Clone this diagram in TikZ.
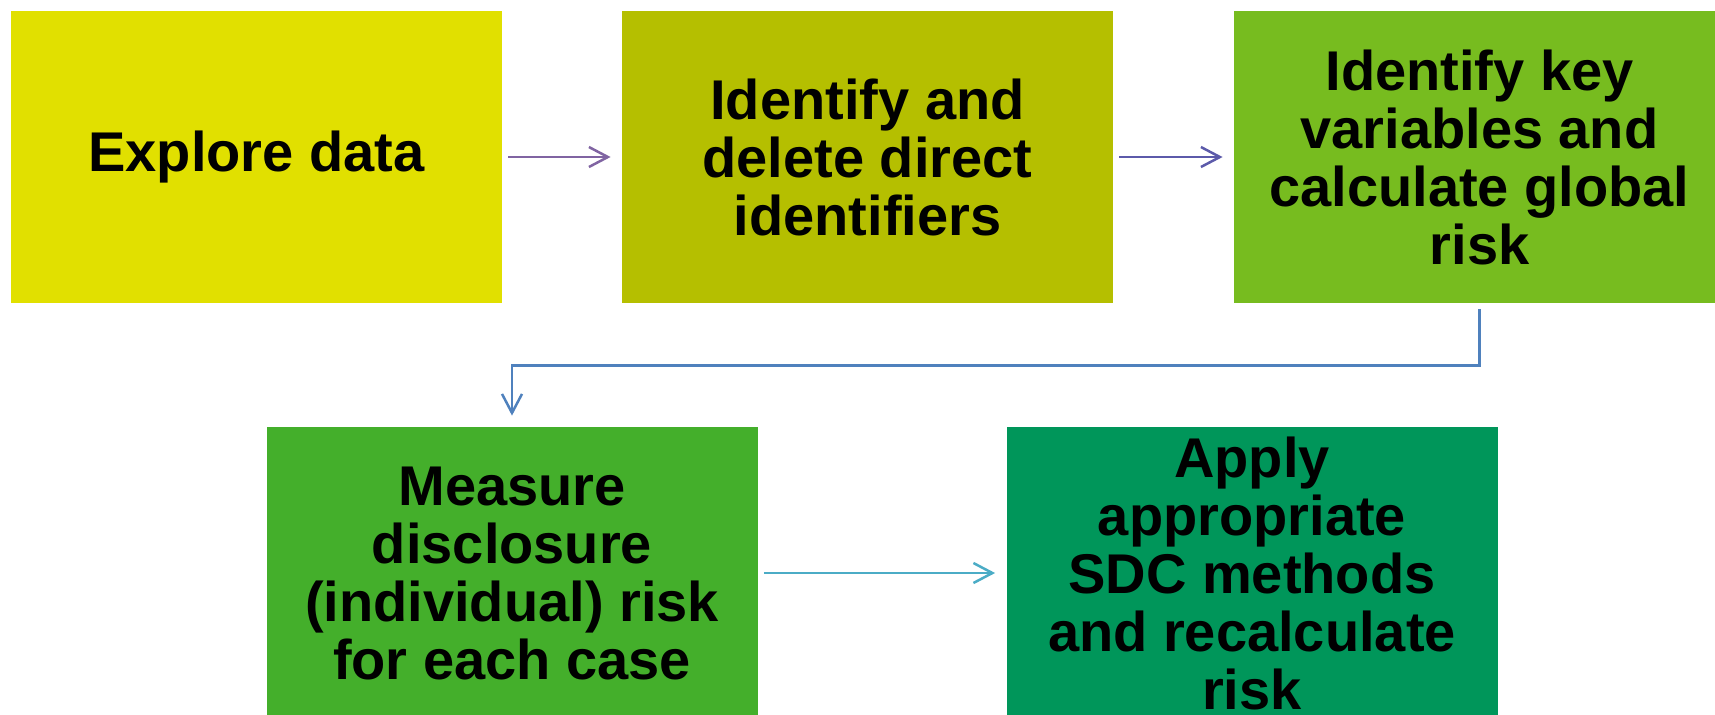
\documentclass[tikz,border=0pt]{standalone}
\usepackage{fontspec}
\setmainfont{Liberation Sans}
\usetikzlibrary{arrows.meta}

\definecolor{stepone}{RGB}{225,224,0}
\definecolor{steptwo}{RGB}{181,191,0}
\definecolor{stepthree}{RGB}{119,188,31}
\definecolor{stepfour}{RGB}{68,175,43}
\definecolor{stepfive}{RGB}{0,150,90}
\definecolor{arrowone}{RGB}{128,100,162}
\definecolor{arrowtwo}{RGB}{92,90,170}
\definecolor{arrowthree}{RGB}{79,129,189}
\definecolor{arrowfour}{RGB}{75,172,198}

\tikzset{
  stage/.style={minimum width=245.5pt, minimum height=146pt, inner sep=0pt, align=center,
    font=\bfseries\fontsize{28}{29}\selectfont},
  flow/.style={line width=1.25pt, -{Straight Barb[length=9.5pt,width=10pt]},
    shorten <=3pt, shorten >=5.5pt}
}

\begin{document}
\begin{tikzpicture}[x=0.5pt, y=-0.5pt]
\useasboundingbox (0,0) rectangle (1715,714);
\clip (0,0) rectangle (1715,714);
\node[stage, fill=stepone] (explore) at (256.5,157) {Explore data};
\node[stage, fill=steptwo] (direct) at (867.5,157) {Identify and\\delete direct\\identifiers};
\node[stage, fill=stepthree] (keyvars) at (1479.5,157) {Identify key\\variables and\\calculate global\\risk};
\node[stage, fill=stepfour] (measure) at (512,573) {Measure\\disclosure\\(individual) risk\\for each case};
\node[stage, fill=stepfive] (apply) at (1252,573) {Apply\\appropriate\\SDC methods\\and recalculate\\risk};
\draw[flow, arrowone] (explore.east) -- (direct.west);
\draw[flow, arrowtwo] (direct.east) -- (keyvars.west);
\draw[flow, arrowthree] (keyvars.south) -- ++(0,62) -| (measure.north);
\draw[flow, arrowfour] (measure.east) -- (apply.west);
\end{tikzpicture}
\end{document}
